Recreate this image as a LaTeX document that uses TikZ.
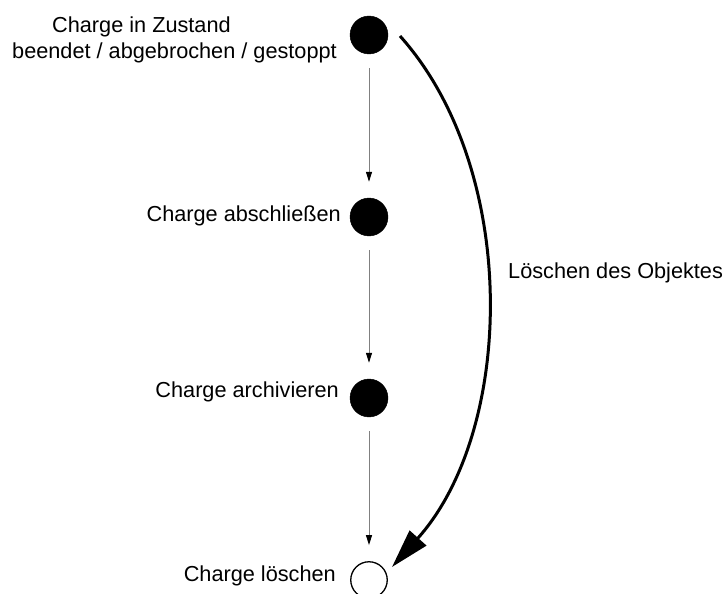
\documentclass[tikz,border=0pt]{standalone}
\usepackage{fontspec}
\setmainfont{Liberation Sans}
\usetikzlibrary{arrows.meta}
\begin{document}
\begin{tikzpicture}[x=1pt, y=-1pt,
  state/.style={circle, draw=black, fill=black, minimum size=38pt, inner sep=0pt},
  endstate/.style={circle, draw=black, line width=1.3pt, fill=white, minimum size=36.5pt, inner sep=0pt},
  lbl/.style={inner sep=0pt, font=\fontsize{21.7}{26}\selectfont},
  flow/.style={draw=gray, line width=1pt, -{Triangle[length=10pt, width=6pt, black]},
               shorten <=14pt, shorten >=16pt},
  purge/.style={draw=black, line width=3pt, -{Triangle[length=39pt, width=22pt]}}]
  \useasboundingbox (0,0) rectangle (724,594);

  % states of the batch
  \node[state] (c1) at (369,35) {};
  \node[state] (c2) at (369,217) {};
  \node[state] (c3) at (369,398) {};
  \node[endstate] (c4) at (369,580) {};

  % labels
  \node[lbl, anchor=base west] (t1a) at (52,33) {Charge in Zustand};
  \node[lbl, anchor=base west] (t1b) at (12,59) {beendet / abgebrochen / gestoppt};
  \node[lbl, anchor=base east] (t2) at (341,222) {Charge abschließen};
  \node[lbl, anchor=base east] (t3) at (339,397) {Charge archivieren};
  \node[lbl, anchor=base east] (t4) at (336,581) {Charge löschen};
  \node[lbl, anchor=base west] (t5) at (508,278) {Löschen des Objektes};

  % regular sequence
  \draw[flow] (c1) -- (c2);
  \draw[flow] (c2) -- (c3);
  \draw[flow] (c3) -- (c4);

  % direct deletion
  \coordinate (p0) at ([shift={(31,1)}]c1.center);
  \coordinate (p1) at ([shift={(23,-13)}]c4.center);
  \draw[purge] (p0) .. controls (520,170) and (515,430) .. (p1);
\end{tikzpicture}
\end{document}
